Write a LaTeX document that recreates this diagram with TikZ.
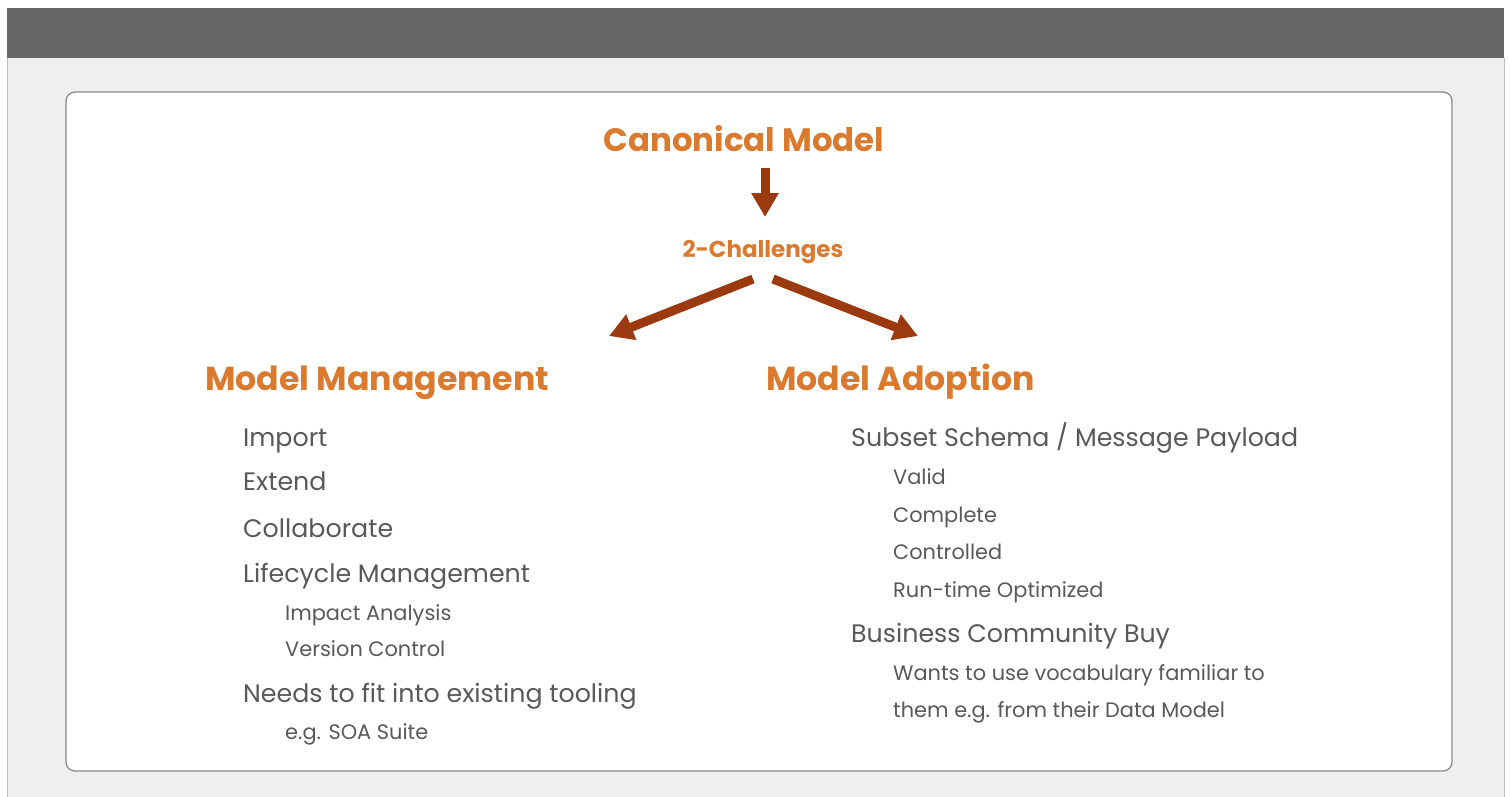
\documentclass[tikz,border=0pt]{standalone}
\usepackage{fontspec}
\setmainfont{Poppins}
\usetikzlibrary{arrows.meta}
\definecolor{barcol}{HTML}{646567}
\definecolor{panel}{HTML}{EFEFEF}
\definecolor{panelline}{HTML}{BDBDBD}
\definecolor{boxline}{HTML}{8A8A8A}
\definecolor{orangeT}{HTML}{D97A2E}
\definecolor{rust}{HTML}{9B3A0F}
\definecolor{bodyT}{HTML}{58595B}
\tikzset{
  txt/.style={anchor=base west, inner sep=0pt, text=bodyT},
  lvlA/.style={txt, font=\fontsize{25.3}{30}\selectfont},
  lvlB/.style={txt, font=\fontsize{20.9}{25}\selectfont},
  head/.style={anchor=base west, inner sep=0pt, text=orangeT, font=\fontsize{33.2}{40}\selectfont\bfseries},
  blockarrow/.style={draw=rust, line width=9pt, -{Triangle[width=26pt,length=24pt]}, fill=rust}
}
\begin{document}
\begin{tikzpicture}[x=1pt,y=-1pt]
\useasboundingbox (0,0) rectangle (1510,797);
\fill[white] (0,0) rectangle (1510,797);
% panel
\fill[panel] (7,58) rectangle (1504,797);
\draw[panelline, line width=1pt] (7,58) -- (7,797) (1504,58) -- (1504,797);
% top bar
\fill[barcol] (7,8) rectangle (1504,58);
% content box
\draw[boxline, line width=1.3pt, fill=white, rounded corners=9pt] (66,92) rectangle (1452,771);

% titles
\node[anchor=base, inner sep=0pt, text=orangeT, font=\fontsize{32.4}{40}\selectfont\bfseries] (canon) at (744,152) {Canonical Model};
\node[anchor=base, inner sep=0pt, text=orangeT, font=\fontsize{23}{28}\selectfont\bfseries] (chal) at (763,257) {2-Challenges};
\node[head] (mm) at (205,390) {Model Management};
\node[head] (ma) at (766,390) {Model Adoption};

% arrows
\coordinate (v0) at (765,168);
\coordinate (v1) at (765,217);
\coordinate (l0) at (753,279);
\coordinate (l1) at (609,336);
\coordinate (r0) at (773,279);
\coordinate (r1) at (918,336);
\draw[blockarrow] (v0) -- (v1);
\draw[blockarrow] (l0) -- (l1);
\draw[blockarrow] (r0) -- (r1);

% left list
\node[lvlA] (i1) at (243,446) {Import};
\node[lvlA] (i2) at (243,490) {Extend};
\node[lvlA] (i3) at (243,537) {Collaborate};
\node[lvlA] (i4) at (243,582) {Lifecycle Management};
\node[lvlB] (i5) at (285,620) {Impact Analysis};
\node[lvlB] (i6) at (285,656) {Version Control};
\node[lvlA] (i7) at (243,702) {Needs to fit into existing tooling};
\node[lvlB] (i8) at (285,739) {e.g. SOA Suite};

% right list
\node[lvlA] (j1) at (851,446) {Subset Schema / Message Payload};
\node[lvlB] (j2) at (893,484) {Valid};
\node[lvlB] (j3) at (893,522) {Complete};
\node[lvlB] (j4) at (893,559) {Controlled};
\node[lvlB] (j5) at (893,597) {Run-time Optimized};
\node[lvlA] (j6) at (851,642) {Business Community Buy};
\node[lvlB] (j7) at (893,680) {Wants to use vocabulary familiar to};
\node[lvlB] (j8) at (893,717) {them e.g. from their Data Model};
\end{tikzpicture}
\end{document}
